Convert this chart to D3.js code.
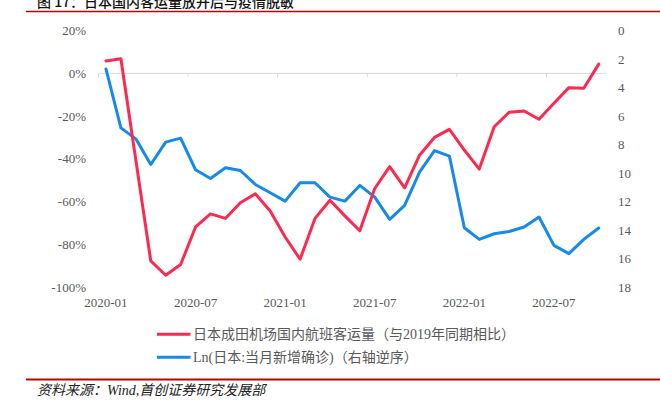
<!DOCTYPE html>
<html>
<head>
<meta charset="utf-8">
<script src="https://cdn.jsdelivr.net/npm/d3@7"></script>
<style>
  html, body { margin: 0; padding: 0; background: #fff; }
  svg { display: block; }
</style>
</head>
<body>
<svg id="chart" width="660" height="404"></svg>
<script>
// ---------- data ----------
const categories = [
  "2020-01","2020-02","2020-03","2020-04","2020-05","2020-06","2020-07","2020-08","2020-09","2020-10","2020-11","2020-12",
  "2021-01","2021-02","2021-03","2021-04","2021-05","2021-06","2021-07","2021-08","2021-09","2021-10","2021-11","2021-12",
  "2022-01","2022-02","2022-03","2022-04","2022-05","2022-06","2022-07","2022-08","2022-09","2022-10"
];
// 日本成田机场国内航班客运量（与2019年同期相比, %）
const naritaDomestic = [
  5.8, 6.8, -40.6, -87.8, -94.5, -89.5, -71.9, -65.8, -67.9, -60.6, -56.4, -64.4,
  -76.6, -87.0, -67.9, -59.4, -66.7, -73.7, -53.9, -43.7, -53.6, -38.3, -30.0, -26.2,
  -35.9, -44.8, -25.0, -18.2, -17.6, -21.5, -14.0, -6.7, -7.0, 4.3
];
// Ln(日本:当月新增确诊)（右轴逆序）
const lnNewCases = [
  2.69, 6.83, 7.60, 9.40, 7.83, 7.55, 9.77, 10.38, 9.63, 9.82, 10.80, 11.38,
  11.97, 10.68, 10.68, 11.69, 11.97, 10.87, 11.69, 13.25, 12.27, 9.94, 8.42, 8.81,
  13.84, 14.66, 14.26, 14.10, 13.79, 13.09, 15.08, 15.66, 14.66, 13.86
];
const xTickLabels = ["2020-01","2020-07","2021-01","2021-07","2022-01","2022-07"];
const leftTicks = [20, 0, -20, -40, -60, -80, -100];
const rightTicks = [0, 2, 4, 6, 8, 10, 12, 14, 16, 18];
const seriesNames = ["日本成田机场国内航班客运量（与2019年同期相比）", "Ln(日本:当月新增确诊)（右轴逆序）"];
const titleText = "图 17：日本国内客运量放开后与疫情脱敏";
const sourceText = "资料来源：Wind,首创证券研究发展部";

// ---------- styles ----------
const RED = "#fb2a50";
const BLUE = "#1789e8";
const TXT = "#595959";
const SERIF = "'Liberation Serif', 'Times New Roman', 'Noto Sans CJK SC', serif";
const CJK = "'Liberation Serif', 'Noto Sans CJK SC', sans-serif";

const svg = d3.select("#chart");

// ---------- scales ----------
const x = d3.scaleBand().domain(categories).range([98.5, 606.2]).paddingInner(0).paddingOuter(0);
const xc = d => x(d) + x.bandwidth() / 2;
const yL = d3.scaleLinear().domain([-100, 20]).range([287, 30.6]);
const yR = d3.scaleLinear().domain([0, 18]).range([30.6, 287]);

// ---------- title & rules ----------
svg.append("text")
  .attr("x", 37).attr("y", 6.5)
  .attr("font-family", "'Noto Sans CJK SC', sans-serif")
  .attr("font-size", 14).attr("font-weight", 500)
  .attr("fill", "#111")
  .text(titleText);
svg.append("line").attr("x1", 26).attr("x2", 660).attr("y1", 11.5).attr("y2", 11.5)
  .attr("stroke", "#c00000").attr("stroke-width", 1.5);

svg.append("line").attr("x1", 26).attr("x2", 660).attr("y1", 379.5).attr("y2", 379.5)
  .attr("stroke", "#c00000").attr("stroke-width", 2);
svg.append("text")
  .attr("x", 37).attr("y", 395)
  .attr("font-family", "'Liberation Serif', 'Noto Sans CJK SC', serif")
  .attr("font-style", "italic")
  .attr("font-size", 14)
  .attr("fill", "#222")
  .text(sourceText);

// ---------- x axis (at 0%) ----------
const y0 = yL(0);
svg.append("line").attr("x1", x.range()[0]).attr("x2", x.range()[1])
  .attr("y1", y0).attr("y2", y0).attr("stroke", "#d9d9d9").attr("stroke-width", 1);
const tickCats = xTickLabels;
svg.selectAll(".xtick").data(tickCats).join("line")
  .attr("class", "xtick")
  .attr("x1", d => x(d)).attr("x2", d => x(d))
  .attr("y1", y0).attr("y2", y0 + 4)
  .attr("stroke", "#d9d9d9").attr("stroke-width", 1);
svg.selectAll(".xlab").data(xTickLabels).join("text")
  .attr("class", "xlab")
  .attr("x", d => xc(d)).attr("y", 307)
  .attr("text-anchor", "middle")
  .attr("font-family", SERIF).attr("font-size", 13).attr("fill", TXT)
  .text(d => d);

// ---------- left axis ----------
svg.selectAll(".ylab").data(leftTicks).join("text")
  .attr("class", "ylab")
  .attr("x", 86).attr("y", d => yL(d))
  .attr("dy", "0.35em")
  .attr("text-anchor", "end")
  .attr("font-family", SERIF).attr("font-size", 13).attr("fill", TXT)
  .text(d => d + "%");

// ---------- right axis ----------
svg.selectAll(".rlab").data(rightTicks).join("text")
  .attr("class", "rlab")
  .attr("x", 618).attr("y", d => yR(d))
  .attr("dy", "0.35em")
  .attr("text-anchor", "start")
  .attr("font-family", SERIF).attr("font-size", 13).attr("fill", TXT)
  .text(d => d);

// ---------- lines ----------
const lineL = d3.line().x((d, i) => xc(categories[i])).y(d => yL(d));
const lineR = d3.line().x((d, i) => xc(categories[i])).y(d => yR(d));

svg.append("path").datum(lnNewCases)
  .attr("d", lineR).attr("fill", "none")
  .attr("stroke", BLUE).attr("stroke-width", 3)
  .attr("stroke-linejoin", "round").attr("stroke-linecap", "round");

svg.append("path").datum(naritaDomestic)
  .attr("d", lineL).attr("fill", "none")
  .attr("stroke", RED).attr("stroke-width", 3)
  .attr("stroke-linejoin", "round").attr("stroke-linecap", "round");

// ---------- legend ----------
const legend = svg.append("g");
const legendItems = [
  { name: seriesNames[0], color: RED, y: 334.3 },
  { name: seriesNames[1], color: BLUE, y: 357.3 }
];
legendItems.forEach(it => {
  legend.append("line")
    .attr("x1", 157).attr("x2", 190.5)
    .attr("y1", it.y).attr("y2", it.y)
    .attr("stroke", it.color).attr("stroke-width", 3);
  legend.append("text")
    .attr("x", 193).attr("y", it.y)
    .attr("dy", "0.36em")
    .attr("font-family", CJK).attr("font-size", 14).attr("fill", TXT)
    .text(it.name);
});
</script>
</body>
</html>
